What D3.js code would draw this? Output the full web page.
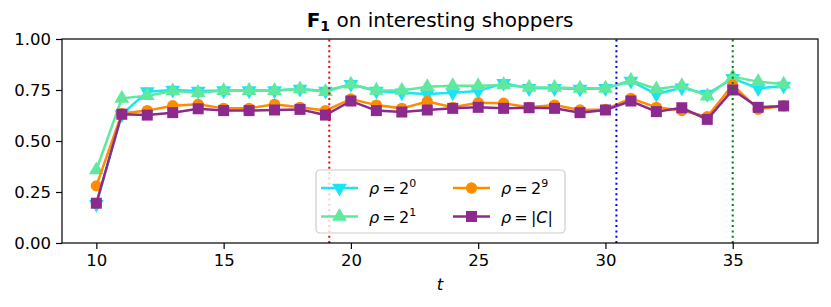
<!DOCTYPE html>
<html>
<head>
<meta charset="utf-8">
<script src="https://cdn.jsdelivr.net/npm/d3@7"></script>
<style>
  body { margin: 0; background: #fff; }
  text { font-family: "DejaVu Sans", sans-serif; }
</style>
</head>
<body>
<div id="chart"></div>
<script>
const tValues = d3.range(10, 38);

const rho0 = [0.19, 0.63, 0.742, 0.75, 0.745, 0.747, 0.747, 0.747, 0.755, 0.745,
  0.778, 0.745, 0.737, 0.73, 0.737, 0.745, 0.783, 0.758, 0.758, 0.755,
  0.758, 0.794, 0.73, 0.761, 0.73, 0.807, 0.758, 0.77];
const rho1 = [0.358, 0.709, 0.722, 0.745, 0.737, 0.747, 0.747, 0.747, 0.755, 0.742,
  0.778, 0.748, 0.748, 0.766, 0.771, 0.771, 0.775, 0.762, 0.762, 0.758,
  0.758, 0.797, 0.755, 0.771, 0.72, 0.815, 0.791, 0.778];
const rho9 = [0.28, 0.635, 0.649, 0.673, 0.68, 0.66, 0.66, 0.68, 0.665, 0.649,
  0.706, 0.676, 0.66, 0.694, 0.665, 0.688, 0.685, 0.665, 0.676, 0.652,
  0.655, 0.709, 0.665, 0.649, 0.619, 0.775, 0.655, 0.672];
const rhoC = [0.195, 0.631, 0.627, 0.639, 0.658, 0.649, 0.649, 0.652, 0.655, 0.627,
  0.696, 0.649, 0.642, 0.652, 0.66, 0.665, 0.66, 0.663, 0.66, 0.639,
  0.652, 0.696, 0.644, 0.663, 0.606, 0.75, 0.665, 0.672];

const xTicks = [10, 15, 20, 25, 30, 35];
const yTicks = [0, 0.25, 0.5, 0.75, 1.0];

const markers = [19.15, 30.43, 35];
const markerColors = ['red', 'blue', 'green'];

const series = [
  {key: 'rho0', values: rho0, color: '#1ce4f2', shape: 'tri-down', sup: '0'},
  {key: 'rho1', values: rho1, color: '#5fe89e', shape: 'tri-up', sup: '1'},
  {key: 'rho9', values: rho9, color: '#ff8c00', shape: 'circle', sup: '9'},
  {key: 'rhoC', values: rhoC, color: '#8c2a8e', shape: 'square', sup: null},
];

const width = 831;
const height = 307;
const margin = {top: 39, right: 13, bottom: 64, left: 62};

const svg = d3.select('#chart').append('svg')
  .attr('width', width)
  .attr('height', height);

const x = d3.scaleLinear()
  .domain([8.65, 38.35])
  .range([margin.left, width - margin.right]);

const y = d3.scaleLinear()
  .domain([0, 1])
  .range([height - margin.bottom, margin.top]);

const symbolFor = (shape) => {
  if (shape === 'square') return d3.symbol(d3.symbolSquare, 121)();
  if (shape === 'circle') return d3.symbol(d3.symbolCircle, 100)();
  return d3.symbol(d3.symbolTriangle, 95)();
};

const drawMarker = (sel, s) => {
  sel.append('path')
    .attr('d', symbolFor(s.shape))
    .attr('fill', s.color)
    .attr('transform', s.shape === 'tri-down' ? 'rotate(180)' : null);
};

// series lines + markers
const line = d3.line()
  .x((d, i) => x(tValues[i]))
  .y(d => y(d));

series.forEach(s => {
  svg.append('path')
    .attr('d', line(s.values))
    .attr('fill', 'none')
    .attr('stroke', s.color)
    .attr('stroke-width', 2.5);

  svg.selectAll('.pt-' + s.key)
    .data(s.values)
    .enter().append('g')
    .attr('class', 'pt-' + s.key)
    .attr('transform', (d, i) => `translate(${x(tValues[i])},${y(d)})`)
    .each(function () { drawMarker(d3.select(this), s); });
});

// dotted vertical lines
svg.selectAll('.vline')
  .data(markers)
  .enter().append('line')
  .attr('class', 'vline')
  .attr('x1', d => x(d))
  .attr('x2', d => x(d))
  .attr('y1', y(0))
  .attr('y2', y(1))
  .attr('stroke', (d, i) => markerColors[i])
  .attr('stroke-width', 2)
  .attr('stroke-dasharray', '2,3.3');

// axes
const xAxis = svg.append('g')
  .attr('transform', `translate(0,${y(0)})`)
  .call(d3.axisBottom(x).tickValues(xTicks).tickSize(6).tickPadding(5).tickFormat(d3.format('d')));

const yAxis = svg.append('g')
  .attr('transform', `translate(${margin.left},0)`)
  .call(d3.axisLeft(y).tickValues(yTicks).tickSize(6).tickPadding(5).tickFormat(d3.format('.2f')));

[xAxis, yAxis].forEach(a => {
  a.select('.domain').remove();
  a.selectAll('.tick line').attr('stroke', '#000').attr('stroke-width', 1.2);
  a.selectAll('.tick text')
    .attr('fill', '#000')
    .style('font-size', '16.5px')
    .style('font-family', '"DejaVu Sans", sans-serif');
});

svg.append('rect')
  .attr('x', margin.left)
  .attr('y', margin.top)
  .attr('width', width - margin.right - margin.left)
  .attr('height', height - margin.bottom - margin.top)
  .attr('fill', 'none')
  .attr('stroke', '#000')
  .attr('stroke-width', 1.2);

// axis label
svg.append('text')
  .attr('x', (margin.left + width - margin.right) / 2)
  .attr('y', 290)
  .attr('text-anchor', 'middle')
  .style('font-size', '16.5px')
  .style('font-style', 'italic')
  .text('t');

// title
const title = svg.append('text')
  .attr('x', (margin.left + width - margin.right) / 2)
  .attr('y', 27)
  .attr('text-anchor', 'middle')
  .style('font-size', '20px');
title.append('tspan').style('font-weight', 'bold').text('F');
title.append('tspan').style('font-weight', 'bold').style('font-size', '14px')
  .attr('dy', 4).text('1');
title.append('tspan').attr('dy', -4).text(' on interesting shoppers');

// legend
const legend = svg.append('g');
legend.append('rect')
  .attr('x', 316)
  .attr('y', 170)
  .attr('width', 249)
  .attr('height', 63)
  .attr('rx', 4)
  .attr('fill', 'rgba(255,255,255,0.8)')
  .attr('stroke', '#cccccc')
  .attr('stroke-width', 1.2);

const legendPos = [
  {x: 321, y: 188}, {x: 321, y: 216.5}, {x: 453, y: 188}, {x: 453, y: 216.5},
];

series.forEach((s, i) => {
  const p = legendPos[i];
  const g = legend.append('g').attr('transform', `translate(${p.x},${p.y})`);
  g.append('line')
    .attr('x1', 0).attr('x2', 37)
    .attr('stroke', s.color)
    .attr('stroke-width', 2.5);
  const m = g.append('g').attr('transform', 'translate(18.5,0)');
  drawMarker(m, s);
  const t = g.append('text')
    .attr('x', 48)
    .attr('y', 6)
    .style('font-size', '16px');
  t.append('tspan').style('font-style', 'italic').text('ρ');
  if (s.sup !== null) {
    t.append('tspan').text('\u2009=\u20092');
    t.append('tspan').attr('dy', -7).style('font-size', '11px').text(s.sup);
  } else {
    t.append('tspan').text('\u2009=\u2009|');
    t.append('tspan').style('font-style', 'italic').text('C');
    t.append('tspan').text('|');
  }
});
</script>
</body>
</html>
